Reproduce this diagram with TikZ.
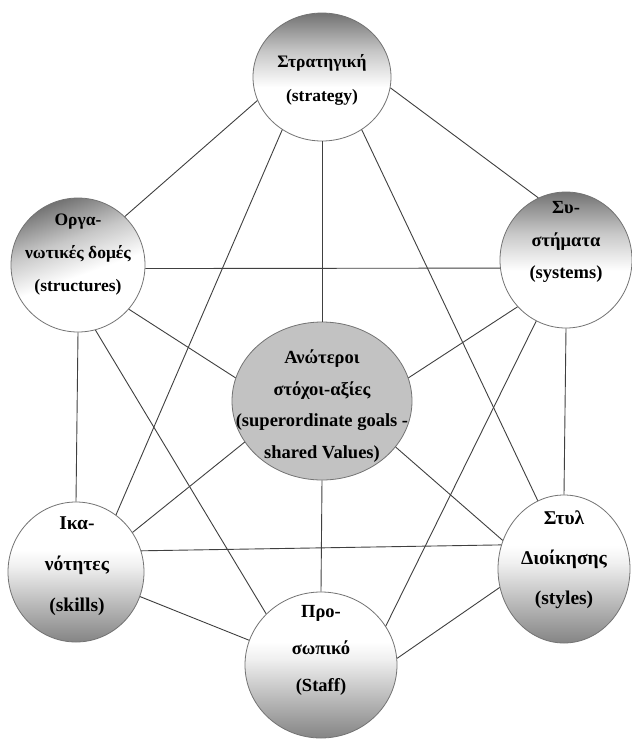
\documentclass[tikz,border=0pt]{standalone}
\usepackage{fontspec}
\setmainfont{Liberation Serif}
\usetikzlibrary{shapes.geometric}
\pgfdeclareverticalshading{upsh}{100bp}{color(0bp)=(white); color(25bp)=(white); color(46bp)=(white); color(60bp)=(black!22); color(75bp)=(black!55); color(100bp)=(black!55)}
\pgfdeclareverticalshading{lowsh}{100bp}{color(0bp)=(black!48); color(25bp)=(black!48); color(38bp)=(black!28); color(52bp)=(black!6); color(58bp)=(white); color(100bp)=(white)}
\tikzset{
  bub/.style={ellipse, draw=black!55, line width=0.8pt, inner sep=0pt},
  lbl/.style={align=center, inner sep=0pt},
  conn/.style={draw=black!75, line width=0.9pt},
  upshade/.style={shade, shading=upsh},
  lowshade/.style={shade, shading=lowsh},
}
\begin{document}
\begin{tikzpicture}[x=1pt,y=1pt]
\path[use as bounding box, fill=white] (0,0) rectangle (632,-740);

% circles
\node[bub, upshade, minimum width=138pt, minimum height=128pt] (st) at (322,-77) {};
\node[bub, upshade, shading angle=20, minimum width=134pt, minimum height=134pt] (str) at (78,-265) {};
\node[bub, upshade, minimum width=132pt, minimum height=136pt] (sys) at (566,-260) {};
\node[bub, fill=black!24, minimum width=180pt, minimum height=158pt] (c) at (322,-401) {};
\node[bub, lowshade, minimum width=136pt, minimum height=140pt] (sk) at (76,-572) {};
\node[bub, lowshade, minimum width=132pt, minimum height=148pt] (sty) at (564,-569) {};
\node[bub, lowshade, minimum width=152pt, minimum height=146pt] (sf) at (321,-665) {};

% texts
\node[lbl, font=\fontsize{17.5}{34}\selectfont\bfseries] (stT) at (322,-80) {Στρατηγική\\(strategy)};
\node[lbl, font=\fontsize{17.5}{33}\selectfont\bfseries] (strT) at (78,-255) {Οργα-\\νωτικές δομές\\(structures)};
\node[lbl, font=\fontsize{18.5}{32.5}\selectfont\bfseries] (sysT) at (566,-242) {Συ-\\στήματα\\(systems)};
\node[lbl, font=\fontsize{18.5}{31.5}\selectfont\bfseries] (cT) at (322,-406) {Ανώτεροι\\στόχοι-αξίες\\(superordinate goals -\\shared Values)};
\node[lbl, font=\fontsize{19.5}{41}\selectfont\bfseries] (skT) at (77,-566) {Ικα-\\νότητες\\(skills)};
\node[lbl, font=\fontsize{19.5}{40}\selectfont\bfseries] (styT) at (564,-560) {Στυλ\\Διοίκησης\\(styles)};
\node[lbl, font=\fontsize{18.5}{37}\selectfont\bfseries] (sfT) at (321,-650) {Προ-\\σωπικό\\(Staff)};

% connectors
\draw[conn] (st.200) -- (str.46);
\draw[conn] (st.351) -- (sys.114);
\draw[conn] (st.south) -- (c.north);
\draw[conn] (st.233) -- (sk.55);
\draw[conn] (st.307) -- (sty.111);
\draw[conn] (str.357) -- (sys.187);
\draw[conn] (str.319) -- (c.165);
\draw[conn] (str.south) -- (sk.north);
\draw[conn] (str.285) -- (sf.137);
\draw[conn] (sys.224) -- (c.15);
\draw[conn] (sys.south) -- (sty.north);
\draw[conn] (sys.244) -- (sf.31);
\draw[conn] (sk.35) -- (c.208);
\draw[conn] (sk.18) -- (sty.159);
\draw[conn] (sk.339) -- (sf.161);
\draw[conn] (sty.155) -- (c.328);
\draw[conn] (sty.196) -- (sf.5);
\draw[conn] (c.south) -- (sf.north);
\end{tikzpicture}
\end{document}
